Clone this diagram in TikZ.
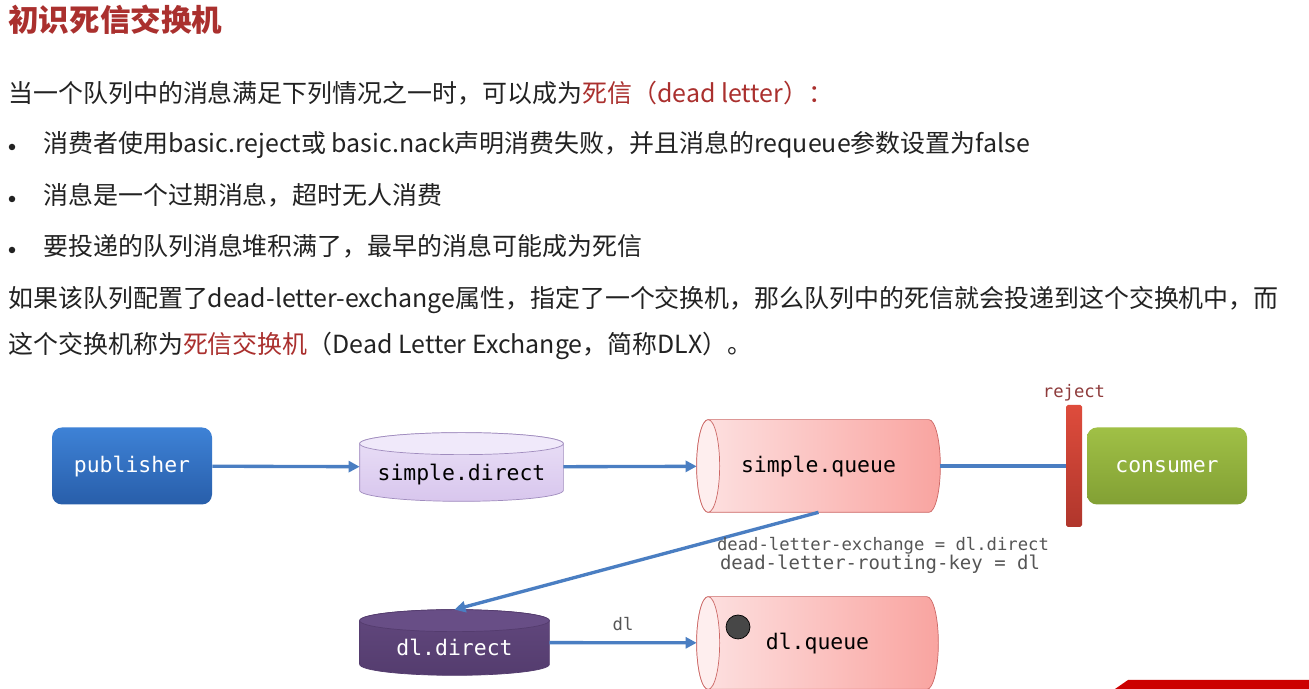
\documentclass[tikz,border=0pt]{standalone}
\usepackage{fontspec}
\setmainfont{Noto Sans CJK SC}
\newfontfamily\monofont{DejaVu Sans Mono}
\usetikzlibrary{arrows.meta,backgrounds,calc,positioning}

\definecolor{hired}{RGB}{170,48,46}
\definecolor{bodyink}{RGB}{34,34,34}
\definecolor{flowblue}{RGB}{74,126,194}
\definecolor{pubtop}{RGB}{62,130,214}
\definecolor{pubbot}{RGB}{40,94,170}
\definecolor{constop}{RGB}{160,192,70}
\definecolor{consbot}{RGB}{130,160,52}
\definecolor{exlight}{RGB}{234,224,247}
\definecolor{exdark}{RGB}{216,198,237}
\definecolor{exface}{RGB}{240,233,250}
\definecolor{exedge}{RGB}{160,140,190}
\definecolor{dltop}{RGB}{98,72,126}
\definecolor{dlbot}{RGB}{84,60,110}
\definecolor{dlface}{RGB}{104,78,134}
\definecolor{qlight}{RGB}{253,226,226}
\definecolor{qdark}{RGB}{249,164,160}
\definecolor{qface}{RGB}{254,238,238}
\definecolor{qedge}{RGB}{204,104,102}
\definecolor{rejtop}{RGB}{222,76,60}
\definecolor{rejbot}{RGB}{176,54,44}
\definecolor{tagink}{RGB}{85,85,85}
\definecolor{rejink}{RGB}{142,59,59}

\tikzset{
    mq diagram/.style = {>={Triangle[length=2.2mm,width=2.2mm]}},
    heading/.style  = {anchor=west, inner sep=0, text=hired,
                       font=\fontsize{17.4}{20}\selectfont\bfseries},
    para/.style     = {anchor=west, inner sep=0, text=bodyink,
                       text height=0.8em, text depth=0.2em,
                       font=\fontsize{14.2}{17}\selectfont},
    bullet/.style   = {circle, fill=bodyink, inner sep=0, minimum size=0.13cm},
    flow/.style     = {draw=flowblue, line width=1.9pt},
    label font/.style = {font=\monofont\fontsize{12.2}{14}\selectfont},
    client/.style   = {label font, rounded corners=0.2cm, text=white,
                       minimum width=3.2cm, minimum height=1.54cm,
                       text height=0.9em, text depth=0.2em},
    % drum outlines are painted behind these boxes (see background layer)
    exchange/.style = {label font, inner sep=0,
                       text height=1.7em, text depth=0.2em},
    queue/.style    = {label font, inner sep=0, minimum width=4.86cm,
                       minimum height=1.84cm, text height=0.9em, text depth=0.2em},
    rejectbar/.style = {top color=rejtop, bottom color=rejbot, rounded corners=1pt,
                        minimum width=0.32cm, minimum height=2.44cm, inner sep=0},
    tag/.style      = {text=tagink, inner sep=1pt,
                       font=\monofont\fontsize{9.8}{11}\selectfont},
    msgdot/.style   = {circle, draw=black, fill=black!72, minimum size=0.48cm, inner sep=0}
}

\begin{document}
\begin{tikzpicture}[mq diagram]
\useasboundingbox (0,0) rectangle (26.18,13.78);

% ---- slide text ----
\node[heading] (title) at (0.16,13.38) {初识死信交换机};
\node[para] (intro) at (0.16,11.84)
    {当一个队列中的消息满足下列情况之一时，可以成为\textcolor{hired}{死信（dead letter）：}};
\node[bullet] (b1) at (0.24,10.84) {};
\node[para] (case1) at (0.86,10.84)
    {消费者使用basic.reject或 basic.nack声明消费失败，并且消息的requeue参数设置为false};
\node[bullet] (b2) at (0.24,9.80) {};
\node[para] (case2) at (0.86,9.80) {消息是一个过期消息，超时无人消费};
\node[bullet] (b3) at (0.24,8.78) {};
\node[para] (case3) at (0.86,8.78) {要投递的队列消息堆积满了，最早的消息可能成为死信};
\node[para] (dlx1) at (0.16,7.74)
    {如果该队列配置了dead-letter-exchange属性，指定了一个交换机，那么队列中的死信就会投递到这个交换机中，而};
\node[para] (dlx2) at (0.16,6.82)
    {这个交换机称为\textcolor{hired}{死信交换机}（Dead Letter Exchange，简称DLX）。};

% ---- upper row ----
\node[client, top color=pubtop, bottom color=pubbot] (pub) at (2.64,4.46) {publisher};
\node[exchange, minimum width=4.06cm, minimum height=1.36cm] (sdir) at (9.23,4.44) {simple.direct};
\node[queue] (sq) at (16.37,4.46) {simple.queue};
\node[rejectbar] (rej) at (21.48,4.46) {};
\node[tag, text=rejink, above=0.02cm of rej] (rejlbl) {reject};
\node[client, top color=constop, bottom color=consbot] (cons) at (23.34,4.46) {consumer};

% ---- lower row ----
\node[exchange, text=white, minimum width=3.78cm, minimum height=1.30cm] (dldir) at (9.09,0.93) {dl.direct};
\node[queue, minimum width=4.82cm] (dlq) at (16.35,0.92) {dl.queue};
\node[msgdot] (msg) at (14.76,1.24) {};

% ---- drums, behind the labels ----
\begin{scope}[on background layer]
\fill[white] (0,0) rectangle (26.18,13.78);
\foreach \ex/\topc/\botc/\edgec/\facec in
        {sdir/exlight/exdark/exedge/exface, dldir/dltop/dlbot/dlbot/dlface} {
    \shadedraw[top color=\topc, bottom color=\botc, draw=\edgec]
        let \p1 = ($(\ex.north east)-(\ex.center)$) in
        ($(\ex.north west)+(0,-0.22)$) -- ($(\ex.south west)+(0,0.22)$)
        arc[start angle=180, end angle=360, x radius=\x1, y radius=0.22cm]
        -- ($(\ex.north east)+(0,-0.22)$)
        arc[start angle=0, end angle=180, x radius=\x1, y radius=0.22cm] -- cycle;
    \filldraw[fill=\facec, draw=\edgec]
        let \p1 = ($(\ex.north east)-(\ex.center)$) in
        ($(\ex.north)+(0,-0.22)$) ellipse [x radius=\x1, y radius=0.22cm];
}
\foreach \q in {sq, dlq} {
    \shadedraw[left color=qlight, right color=qdark, draw=qedge]
        let \p1 = ($(\q.north east)-(\q.center)$) in
        ($(\q.north west)+(0.23,0)$) -- ($(\q.north east)+(-0.23,0)$)
        arc[start angle=90, end angle=-90, x radius=0.23cm, y radius=\y1]
        -- ($(\q.south west)+(0.23,0)$)
        arc[start angle=270, end angle=90, x radius=0.23cm, y radius=\y1] -- cycle;
    \filldraw[fill=qface, draw=qedge]
        let \p1 = ($(\q.north east)-(\q.center)$) in
        ($(\q.west)+(0.23,0)$) ellipse [x radius=0.23cm, y radius=\y1];
}
\end{scope}

% ---- connectors ----
\draw[flow, ->] (pub) -- (sdir);
\draw[flow, ->] (sdir) -- (sq);
\draw[flow] (sq) -- (rej);
\draw[flow, ->] (sq.south) -- (dldir.north);
\draw[flow, ->] (dldir) -- node[tag, above=5pt] (dllbl) {dl} (dlq);

\node[tag] (dlxarg) at (17.66,2.86) {dead-letter-exchange = dl.direct};
\node[tag, font=\monofont\fontsize{10.8}{12}\selectfont] (dlkarg) at (17.60,2.50)
    {dead-letter-routing-key = dl};

% video banner corner
\fill[red!80!black] (22.30,0) -- (22.56,0.18) -- (26.18,0.18) -- (26.18,0) -- cycle;
\end{tikzpicture}
\end{document}
